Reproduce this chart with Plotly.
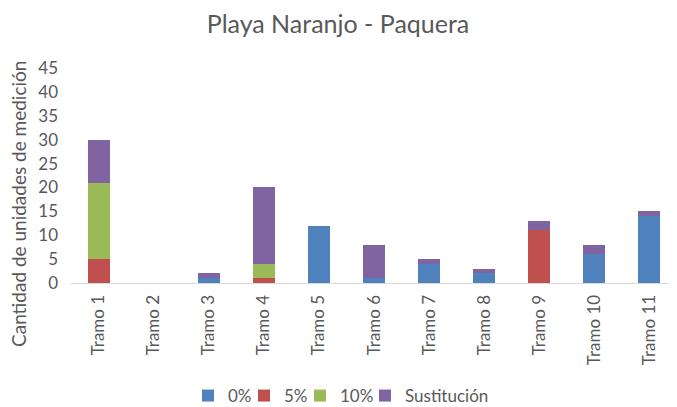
import plotly.graph_objects as go

categories = ["Tramo 1", "Tramo 2", "Tramo 3", "Tramo 4", "Tramo 5", "Tramo 6",
              "Tramo 7", "Tramo 8", "Tramo 9", "Tramo 10", "Tramo 11"]
s0 = [0, 0, 1, 0, 12, 1, 4, 2, 0, 6, 14]
s5 = [5, 0, 0, 1, 0, 0, 0, 0, 11, 0, 0]
s10 = [16, 0, 0, 3, 0, 0, 0, 0, 0, 0, 0]
sust = [9, 0, 1, 16, 0, 7, 1, 1, 2, 2, 1]
y_ticks = [0, 5, 10, 15, 20, 25, 30, 35, 40, 45]

series = [("0%", s0, "#4F81BD"), ("5%", s5, "#C0504D"),
          ("10%", s10, "#9BBB59"), ("Sustitución", sust, "#8064A2")]

# page body has an 8px margin, so the figure is laid out 8px in from the corner
W, H = 669, 399
font = "Lato, 'Open Sans', sans-serif"

legend_names = ["legend2", "legend3", "legend4", "legend5"]
symbol_centers = [208, 264, 320, 385]  # window px

fig = go.Figure()
for (name, vals, col), lg in zip(series, legend_names):
    fig.add_trace(go.Bar(name=name, x=categories, y=vals, marker_color=col,
                         marker_line_width=0, legend=lg, showlegend=True))

legend_layout = {}
for lg, sc in zip(legend_names, symbol_centers):
    legend_layout[lg] = dict(orientation="h", xref="container", x=(sc - 28) / W,
                             xanchor="left", yref="container", y=1 - 388 / H,
                             yanchor="middle", font=dict(size=17), itemwidth=30,
                             bgcolor="rgba(0,0,0,0)", visible=True)

fig.update_layout(
    barmode="stack", bargap=0.6,
    width=W, height=H,
    margin=dict(l=63, r=0, t=60, b=124, autoexpand=False),
    paper_bgcolor="white", plot_bgcolor="white",
    font=dict(family=font, color="#595959", size=16),
    showlegend=True,
    title=dict(text="Playa Naranjo - Paquera", x=330 / W, xref="container",
               xanchor="center",
               y=1 - 16 / H, yref="container", yanchor="middle",
               font=dict(size=25, color="#595959")),
    yaxis=dict(range=[0, 45], tickvals=y_ticks, showgrid=False, zeroline=False,
               showline=False, ticks="", tickfont=dict(size=17),
               ticklabelstandoff=12),
    xaxis=dict(tickangle=-90, showline=True, linecolor="#D9D9D9", linewidth=1,
               ticks="", tickfont=dict(size=17), ticklabelstandoff=4),
    annotations=[dict(text="Cantidad de unidades de medición", textangle=-90,
                      xref="paper", yref="paper", showarrow=False,
                      x=(10 - 63) / (W - 63), y=(275 - 196) / 215,
                      xanchor="center", yanchor="middle",
                      font=dict(size=19, color="#595959"))],
    **legend_layout,
)
fig.write_html("out.html")
